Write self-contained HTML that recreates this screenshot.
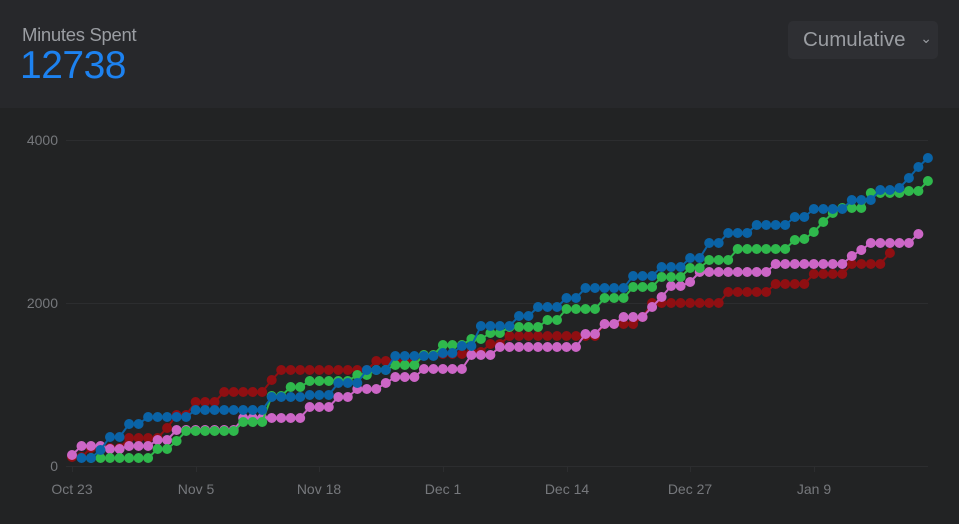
<!DOCTYPE html>
<html><head><meta charset="utf-8"><style>
html,body{margin:0;padding:0;background:#222324;width:959px;height:524px;overflow:hidden;font-family:"Liberation Sans",sans-serif}
#hdr{position:absolute;left:0;top:0;width:959px;height:108px;background:#27282b}
#t{position:absolute;left:22px;top:24px;color:#9a9da2;font-size:18.5px;letter-spacing:-0.3px}
#n{position:absolute;left:20px;top:44px;color:#1d82f0;font-size:39px;letter-spacing:-0.5px}
#dd{position:absolute;left:788px;top:21px;width:150px;height:38px;background:#2e2f33;border-radius:5px;color:#9a9da2;font-size:20.5px;line-height:38px;padding-left:15px;box-sizing:border-box}
#dd span{position:absolute;right:6px;top:-2px;font-size:14px}
svg{position:absolute;left:0;top:0}
</style></head><body>
<div id="hdr"></div>
<div id="t">Minutes Spent</div>
<div id="n">12738</div>
<div id="dd">Cumulative<span>&#8964;</span></div>
<svg id="s" width="959" height="524" xmlns="http://www.w3.org/2000/svg">
<g stroke="#2c2d2f" stroke-width="1">
<line x1="66" y1="140.5" x2="928" y2="140.5"/><line x1="66" y1="303.5" x2="928" y2="303.5"/><line x1="66" y1="466.5" x2="928" y2="466.5"/>
<line x1="72.5" y1="466" x2="72.5" y2="472"/><line x1="196.5" y1="466" x2="196.5" y2="472"/><line x1="319.5" y1="466" x2="319.5" y2="472"/><line x1="443.5" y1="466" x2="443.5" y2="472"/><line x1="567.5" y1="466" x2="567.5" y2="472"/><line x1="690.5" y1="466" x2="690.5" y2="472"/><line x1="814.5" y1="466" x2="814.5" y2="472"/>
</g>
<g fill="#76787c" font-size="14" font-family="Liberation Sans, sans-serif">
<text x="58" y="145" text-anchor="end">4000</text><text x="58" y="308" text-anchor="end">2000</text><text x="58" y="471" text-anchor="end">0</text>
<g text-anchor="middle"><text x="72" y="494">Oct 23</text><text x="196" y="494">Nov 5</text><text x="319" y="494">Nov 18</text><text x="443" y="494">Dec 1</text><text x="567" y="494">Dec 14</text><text x="690" y="494">Dec 27</text><text x="814" y="494">Jan 9</text></g>
</g>
<g id="d"></g>
</svg>
<script>
var S=[
["#8f0f12",[[72,457],[90,448],[130,438],[160,438],[165,428],[180,415],[200,402],[220,392],[260,392],[270,380],[280,370],[370,370],[380,361],[420,355],[440,354],[460,354],[470,352],[490,344],[510,336],[590,336],[600,324],[640,317],[650,303],[720,303],[730,292],[770,292],[780,284],[800,284],[810,274],[840,274],[850,264],[880,264],[890,253]]],
["#cc66c6",[[72,455],[82,446],[100,446],[110,449],[130,446],[160,440],[180,430],[230,430],[240,418],[300,418],[310,407],[340,397],[360,389],[390,383],[400,377],[420,369],[460,369],[470,355],[500,347],[580,347],[590,334],[600,324],[620,317],[650,307],[660,297],[670,286],[690,282],[700,272],[770,272],[780,264],[840,264],[850,256],[860,250],[870,243],[910,243],[920,234]]],
["#2fb84c",[[90,458],[150,458],[160,449],[180,441],[190,431],[230,431],[240,422],[270,396],[290,387],[310,381],[340,381],[360,375],[380,370],[400,365],[420,355],[440,345],[470,339],[490,333],[510,327],[550,320],[570,309],[600,298],[630,287],[660,277],[690,268],[710,260],[740,249],[790,240],[800,239],[810,232],[820,222],[830,213],[840,208],[870,193],[910,191],[928,181]]],
["#0a63a6",[[80,458],[100,450],[110,437],[130,424],[150,417],[200,410],[270,397],[310,395],[340,383],[370,370],[400,356],[440,353],[460,346],[480,326],[520,316],[540,307],[570,298],[590,288],[630,276],[660,267],[690,258],[710,243],[730,233],[760,225],[790,217],[810,209],[850,200],[880,190],[900,188],[910,178],[920,167],[928,158]]]
];
var g=document.getElementById("d"),h="";
S.forEach(function(s){
 var c=s[0],k=s[1],pts=[];
 for(var x=72;x<=929;x+=9.51){
  if(x<k[0][0]-5)continue;
  if(x>k[k.length-1][0]+5)break;
  var y=k[0][1];
  for(var i=0;i<k.length;i++){if(k[i][0]<=x+4.7)y=k[i][1];}
  pts.push([x,y]);
 }
 h+='<polyline fill="none" stroke="'+c+'" stroke-width="2" points="'+pts.map(function(p){return p[0].toFixed(1)+","+p[1].toFixed(1)}).join(" ")+'"/>';
 pts.forEach(function(p){h+='<circle cx="'+p[0].toFixed(1)+'" cy="'+p[1].toFixed(1)+'" r="5" fill="'+c+'"/>';});
});
g.innerHTML=h;
</script>
</body></html>
